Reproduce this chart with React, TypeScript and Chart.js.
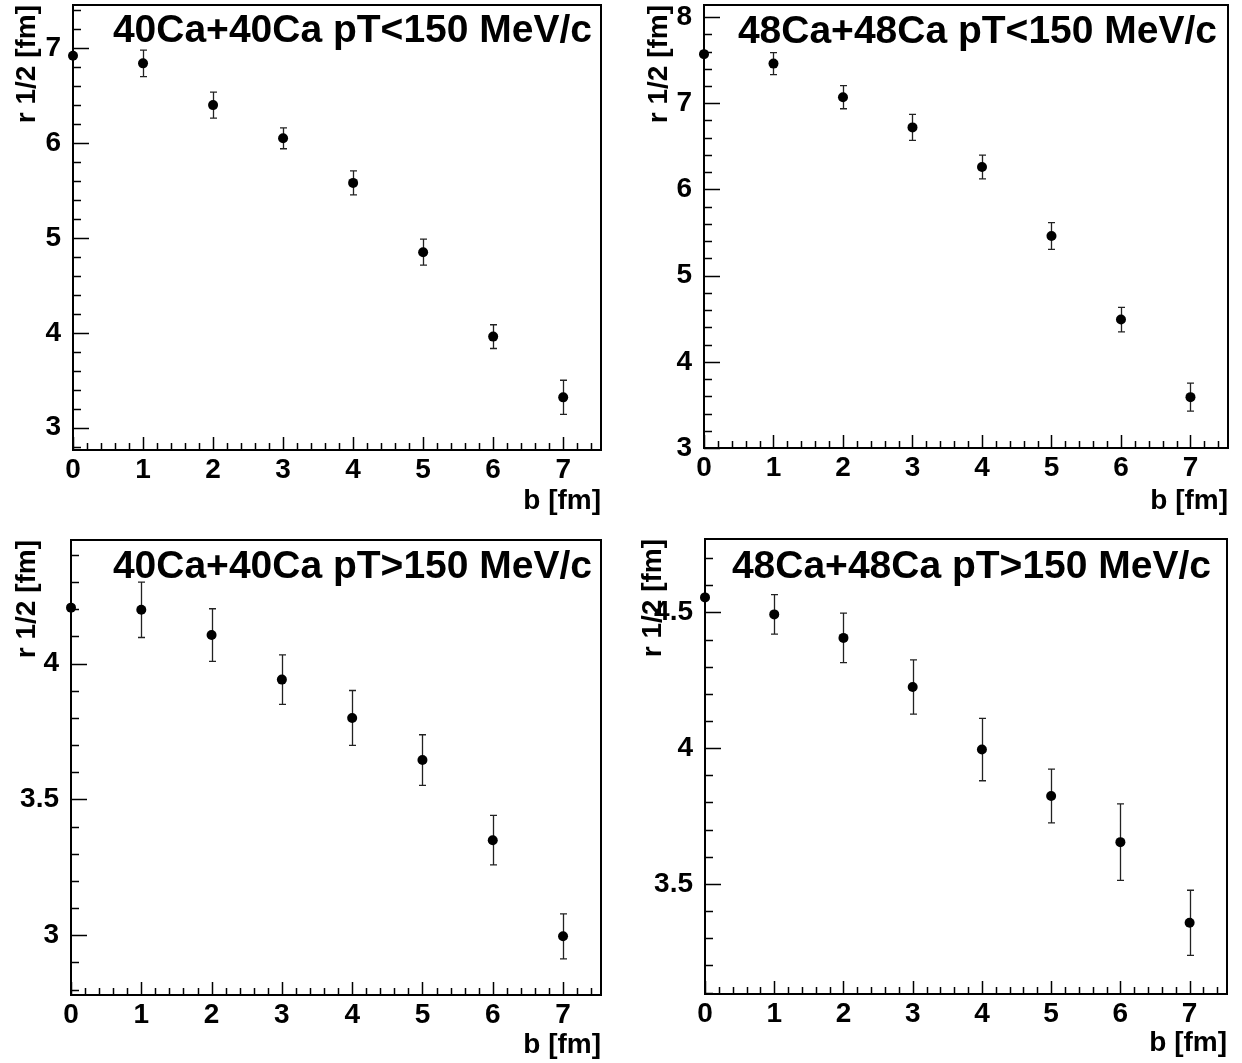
import React, { useEffect, useRef } from "react";
import { Chart, registerables } from "chart.js";

Chart.register(...registerables);

// ---------- data ----------
const bValues = [0, 1, 2, 3, 4, 5, 6, 7];

const r40Low = [6.92, 6.84, 6.4, 6.05, 5.58, 4.85, 3.96, 3.32];
const e40Low = [0, 0.14, 0.137, 0.11, 0.126, 0.137, 0.125, 0.18];

const r48Low = [7.57, 7.46, 7.07, 6.72, 6.26, 5.46, 4.49, 3.59];
const e48Low = [0, 0.128, 0.134, 0.15, 0.138, 0.155, 0.142, 0.163];

const r40High = [4.206, 4.198, 4.105, 3.941, 3.8, 3.645, 3.35, 2.996];
const e40High = [0, 0.102, 0.097, 0.091, 0.101, 0.093, 0.091, 0.083];

const r48High = [4.555, 4.4925, 4.406, 4.225, 3.995, 3.824, 3.654, 3.357];
const e48High = [0, 0.0725, 0.091, 0.1, 0.115, 0.099, 0.141, 0.12];

const xTickLabels = [0, 1, 2, 3, 4, 5, 6, 7];
const yTicksLow40 = [3, 4, 5, 6, 7];
const yTicksLow48 = [3, 4, 5, 6, 7, 8];
const yTicksHigh40 = [3, 3.5, 4];
const yTicksHigh48 = [3.5, 4, 4.5];

const titles = [
  "40Ca+40Ca pT<150 MeV/c",
  "48Ca+48Ca pT<150 MeV/c",
  "40Ca+40Ca pT>150 MeV/c",
  "48Ca+48Ca pT>150 MeV/c",
];
const xTitle = "b [fm]";
const yTitle = "r 1/2 [fm]";

const FONT = "'Liberation Sans', Arial, Helvetica, sans-serif";

type Panel = {
  title: string;
  values: number[];
  errors: number[];
  yTicks: number[];
  yMin: number;
  yMax: number;
  yMinorStep: number;
  left: number;
  top: number;
  w: number;
  h: number;
  yAxisW: number;
  padTop: number;
  padRight: number;
  xAxisH: number;
  xTitlePad: number;
  yTitlePad: number;
  titleInset: number;
  titleBase: number;
};

const panels: Panel[] = [
  {
    title: titles[0], values: r40Low, errors: e40Low, yTicks: yTicksLow40,
    yMin: 2.765, yMax: 7.455, yMinorStep: 0.2,
    left: 0, top: 0, w: 621, h: 531, yAxisW: 73, padTop: 3, padRight: 20, xAxisH: 81,
    xTitlePad: 16, yTitlePad: 13, titleInset: 9, titleBase: 37,
  },
  {
    title: titles[1], values: r48Low, errors: e48Low, yTicks: yTicksLow48,
    yMin: 3, yMax: 8.14, yMinorStep: 0.2,
    left: 621, top: 0, w: 621, h: 531, yAxisW: 83, padTop: 3, padRight: 14, xAxisH: 83,
    xTitlePad: 16, yTitlePad: 24, titleInset: 11, titleBase: 38,
  },
  {
    title: titles[2], values: r40High, errors: e40High, yTicks: yTicksHigh40,
    yMin: 2.78, yMax: 4.455, yMinorStep: 0.1,
    left: 0, top: 531, w: 621, h: 532, yAxisW: 71, padTop: 9, padRight: 20, xAxisH: 68,
    xTitlePad: 4, yTitlePad: 13, titleInset: 9, titleBase: 38,
  },
  {
    title: titles[3], values: r48High, errors: e48High, yTicks: yTicksHigh48,
    yMin: 3.095, yMax: 4.77, yMinorStep: 0.1,
    left: 621, top: 531, w: 621, h: 532, yAxisW: 84, padTop: 8, padRight: 15, xAxisH: 69,
    xTitlePad: 6, yTitlePad: 18, titleInset: 16, titleBase: 39,
  },
];

const X_MIN = 0;
const X_MAX = 7.54;
const X_MINOR = 0.2;

function minorValues(min: number, max: number, step: number): number[] {
  const out: number[] = [];
  const start = Math.ceil(min / step - 1e-6);
  const end = Math.floor(max / step + 1e-6);
  for (let i = start; i <= end; i++) out.push(+(i * step).toFixed(6));
  return out;
}

const rootPlugin = {
  id: "rootFrame",
  beforeDatasetsDraw(chart: any) {
    const p: Panel = chart.options.plugins.rootFrame.panel;
    const { ctx, chartArea: a } = chart;
    const xs = chart.scales.x;
    const ys = chart.scales.y;
    ctx.save();
    ctx.strokeStyle = "#000";
    ctx.lineWidth = 1.5;
    ctx.beginPath();
    for (const v of minorValues(X_MIN, X_MAX, X_MINOR)) {
      const major = Math.abs(v - Math.round(v)) < 1e-6;
      const px = Math.round(xs.getPixelForValue(v)) + 0.5;
      ctx.moveTo(px, a.bottom);
      ctx.lineTo(px, a.bottom - (major ? 13 : 7));
    }
    for (const v of minorValues(p.yMin, p.yMax, p.yMinorStep)) {
      const major = p.yTicks.some((t) => Math.abs(t - v) < 1e-6);
      const py = Math.round(ys.getPixelForValue(v)) + 0.5;
      ctx.moveTo(a.left, py);
      ctx.lineTo(a.left + (major ? 16 : 8), py);
    }
    ctx.stroke();

    // error bars
    ctx.lineWidth = 1.3;
    ctx.strokeStyle = "#222";
    ctx.beginPath();
    p.values.forEach((v, i) => {
      const e = p.errors[i];
      if (!e) return;
      const px = Math.round(xs.getPixelForValue(bValues[i])) + 0.5;
      const y1 = ys.getPixelForValue(v + e);
      const y2 = ys.getPixelForValue(v - e);
      ctx.moveTo(px, y1);
      ctx.lineTo(px, y2);
      ctx.moveTo(px - 3.5, y1);
      ctx.lineTo(px + 3.5, y1);
      ctx.moveTo(px - 3.5, y2);
      ctx.lineTo(px + 3.5, y2);
    });
    ctx.stroke();

    // frame
    ctx.strokeStyle = "#000";
    ctx.lineWidth = 2;
    ctx.strokeRect(a.left, a.top, a.right - a.left, a.bottom - a.top);
    ctx.restore();
  },
  afterDatasetsDraw(chart: any) {
    const p: Panel = chart.options.plugins.rootFrame.panel;
    const { ctx, chartArea: a } = chart;
    ctx.save();
    ctx.fillStyle = "#000";
    ctx.font = `bold 39px ${FONT}`;
    ctx.textAlign = "right";
    ctx.textBaseline = "alphabetic";
    ctx.fillText(p.title, a.right - p.titleInset, a.top + p.titleBase);
    ctx.restore();
  },
};

function PanelChart({ p }: { p: Panel }) {
  const ref = useRef<HTMLCanvasElement | null>(null);
  useEffect(() => {
    if (!ref.current) return;
    const tickFont = { family: FONT, size: 28, weight: "bold" as const, lineHeight: 1 };
    const titleFont = { family: FONT, size: 28, weight: "bold" as const, lineHeight: 1 };
    const chart = new Chart(ref.current, {
      type: "scatter",
      data: {
        datasets: [
          {
            data: bValues.map((b, i) => ({ x: b, y: p.values[i] })),
            backgroundColor: "#000",
            borderColor: "#000",
            borderWidth: 0,
            pointRadius: 5,
            pointStyle: "circle",
            showLine: false,
            clip: 20,
          } as any,
        ],
      },
      options: {
        animation: false,
        responsive: false,
        devicePixelRatio: 1,
        layout: { padding: { top: p.padTop, right: p.padRight, left: 0, bottom: 0 } },
        plugins: {
          legend: { display: false },
          tooltip: { enabled: false },
          rootFrame: { panel: p },
        } as any,
        scales: {
          x: {
            type: "linear",
            min: X_MIN,
            max: X_MAX,
            grid: { display: false },
            border: { display: false },
            afterBuildTicks: (s: any) => {
              s.ticks = xTickLabels.map((v) => ({ value: v }));
            },
            afterFit: (s: any) => {
              s.height = p.xAxisH;
              s.paddingLeft = 0;
              s.paddingRight = 0;
            },
            ticks: {
              font: tickFont,
              color: "#000",
              padding: -2,
              maxRotation: 0,
              autoSkip: false,
              callback: (v: any) => String(v),
            },
            title: {
              display: true,
              text: xTitle,
              align: "end",
              color: "#000",
              font: titleFont,
              padding: { top: 0, bottom: p.xTitlePad },
            },
          },
          y: {
            type: "linear",
            min: p.yMin,
            max: p.yMax,
            grid: { display: false },
            border: { display: false },
            afterBuildTicks: (s: any) => {
              s.ticks = p.yTicks.map((v) => ({ value: v }));
            },
            afterFit: (s: any) => {
              s.width = p.yAxisW;
              s.paddingTop = 0;
              s.paddingBottom = 0;
            },
            ticks: {
              font: tickFont,
              color: "#000",
              padding: 4,
              autoSkip: false,
              callback: (v: any) => String(v),
            },
            title: {
              display: true,
              text: yTitle,
              align: "end",
              color: "#000",
              font: titleFont,
              padding: { top: p.yTitlePad, bottom: 0 },
            },
          },
        },
      } as any,
      plugins: [rootPlugin],
    });
    return () => chart.destroy();
  }, [p]);
  return (
    <div style={{ position: "absolute", left: p.left, top: p.top, width: p.w, height: p.h }}>
      <canvas ref={ref} width={p.w} height={p.h} style={{ display: "block", width: p.w, height: p.h }} />
    </div>
  );
}

export default function App() {
  return (
    <div
      style={{
        position: "fixed",
        left: 0,
        top: 0,
        width: 1242,
        height: 1063,
        background: "#fff",
        overflow: "hidden",
      }}
    >
      {panels.map((p, i) => (
        <PanelChart key={i} p={p} />
      ))}
    </div>
  );
}
